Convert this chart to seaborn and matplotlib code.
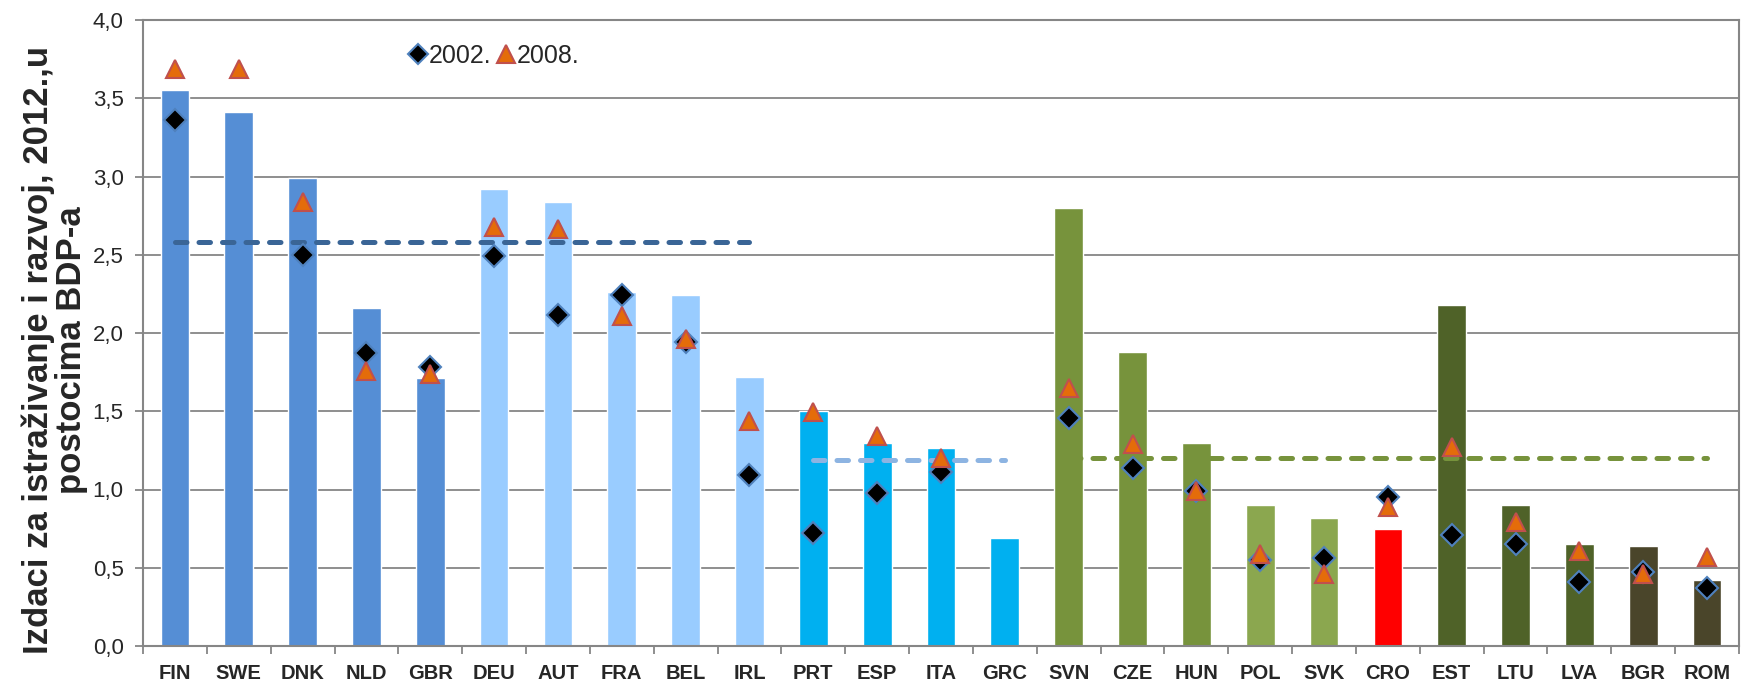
import matplotlib
matplotlib.use("Agg")
import matplotlib.pyplot as plt
from matplotlib.lines import Line2D
from matplotlib.ticker import FuncFormatter, FixedLocator
import seaborn as sns
import numpy as np
import pandas as pd

countries = ["FIN", "SWE", "DNK", "NLD", "GBR", "DEU", "AUT", "FRA", "BEL", "IRL",
             "PRT", "ESP", "ITA", "GRC", "SVN", "CZE", "HUN", "POL", "SVK", "CRO",
             "EST", "LTU", "LVA", "BGR", "ROM"]
rd_2012 = [3.55, 3.41, 2.99, 2.16, 1.71, 2.92, 2.84, 2.26, 2.24, 1.72,
           1.50, 1.30, 1.265, 0.69, 2.80, 1.88, 1.30, 0.90, 0.82, 0.75,
           2.18, 0.90, 0.65, 0.64, 0.42]
rd_2002 = [3.36, np.nan, 2.50, 1.875, 1.78, 2.49, 2.115, 2.24, 1.94, 1.09,
           0.72, 0.98, 1.11, np.nan, 1.46, 1.14, 0.99, 0.55, 0.56, 0.955,
           0.71, 0.65, 0.41, 0.47, 0.37]
rd_2008 = [3.69, 3.69, 2.84, 1.76, 1.74, 2.68, 2.665, 2.11, 1.96, 1.44,
           1.495, 1.34, 1.20, np.nan, 1.65, 1.29, 0.99, 0.59, 0.46, 0.89,
           1.27, 0.79, 0.61, 0.46, 0.57]
bar_colors = ["#558ed5"] * 5 + ["#99ccff"] * 5 + ["#00b0f0"] * 4 + \
             ["#77933c"] * 3 + ["#8ba74f"] * 2 + ["#ff0000"] + \
             ["#4f6228"] * 3 + ["#4a452a"] * 2
avg_group = ["A"] * 10 + ["B"] * 4 + ["C"] * 11
avg_colors = {"A": "#3a6596", "B": "#8db4e2", "C": "#77933c"}
ytick_values = [0.0, 0.5, 1.0, 1.5, 2.0, 2.5, 3.0, 3.5, 4.0]
ylabel_text = "Izdaci za istraživanje i razvoj, 2012.,u\npostocima BDP-a"
legend_labels = ["2002.", "2008."]

df = pd.DataFrame({"country": countries, "rd2012": rd_2012,
                   "rd2002": rd_2002, "rd2008": rd_2008, "grp": avg_group})

sns.set_style("white")
plt.rcParams["font.family"] = ["Liberation Sans", "DejaVu Sans"]

fig = plt.figure(figsize=(17.5, 6.85), dpi=100)
ax = fig.add_axes([143 / 1750, 1 - 646 / 685, 1596 / 1750, 626 / 685])

grid_c = "#868686"
ax.set_axisbelow(True)
for v in ytick_values:
    ax.axhline(v, color=grid_c, lw=1.3, zorder=0)

sns.barplot(data=df, x="country", y="rd2012", hue="country",
            palette=dict(zip(countries, bar_colors)), width=0.45,
            legend=False, ax=ax, saturation=1, zorder=2)

pos = np.arange(len(countries))
# group averages as dashed lines
for g in ["A", "B", "C"]:
    sub = df[df["grp"] == g]
    idx = pos[df["grp"].values == g]
    m = sub["rd2012"].mean()
    ax.plot([idx.min(), idx.max()], [m, m], color=avg_colors[g], lw=3.6,
            dashes=(2.3, 2.4), dash_capstyle="round", zorder=3)

ax.plot(pos, df["rd2002"], linestyle="none", marker="D", ms=11,
        mfc="black", mec="#4f81bd", mew=1.5, zorder=4)
ax.plot(pos, df["rd2008"], linestyle="none", marker="^", ms=13,
        mfc="#e46c0a", mec="#c0504d", mew=1.5, zorder=5)

ax.set_xlim(-0.5, len(countries) - 0.5)
ax.set_ylim(0, 4.0)
ax.yaxis.set_major_locator(FixedLocator(ytick_values))
ax.yaxis.set_major_formatter(FuncFormatter(lambda v, p: f"{v:.1f}".replace(".", ",")))
ax.tick_params(axis="y", which="major", length=6, width=1.3, color=grid_c,
               labelsize=16, pad=8, direction="out", left=True)
ax.set_xticks(pos)
ax.set_xticklabels(countries, fontweight="bold")
ax.tick_params(axis="x", which="major", length=0, labelsize=14.5, pad=13)
ax.set_xticks(np.arange(-0.5, len(countries)), minor=True)
ax.tick_params(axis="x", which="minor", length=6, width=1.3, color=grid_c,
               direction="out", bottom=True)
ax.set_xlabel("")

for s in ["left", "right", "bottom", "top"]:
    ax.spines[s].set_visible(True)
    ax.spines[s].set_color(grid_c)
    ax.spines[s].set_linewidth(1.5)
ax.spines["bottom"].set_zorder(6)

ax.set_ylabel(ylabel_text, fontsize=25, fontweight="bold", linespacing=1.0)
ax.yaxis.set_label_coords(-0.0345, 0.473)

handles = [Line2D([], [], linestyle="none", marker="D", ms=10, mfc="black",
                  mec="#4f81bd", mew=1.5),
           Line2D([], [], linestyle="none", marker="^", ms=13, mfc="#e46c0a",
                  mec="#c0504d", mew=1.5)]
ax.legend(handles, legend_labels, loc="center left", bbox_to_anchor=(0.166, 0.943),
          ncol=2, frameon=False, fontsize=18, handletextpad=0.05,
          columnspacing=0.15, handlelength=0.8, borderpad=0, borderaxespad=0)

fig.savefig("out.png", dpi=100)
